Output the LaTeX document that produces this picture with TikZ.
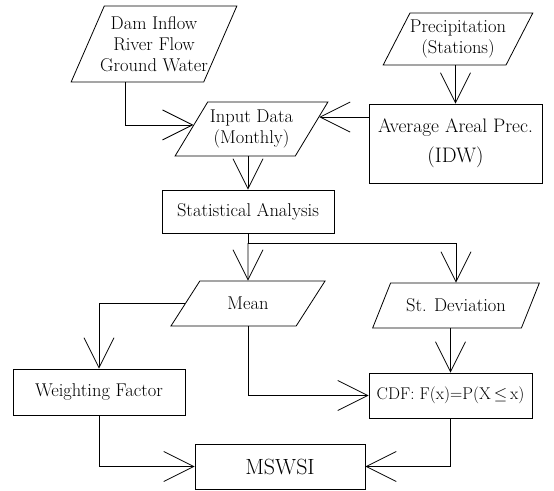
\documentclass[tikz,border=0pt]{standalone}
\usepackage{tikz}
\usetikzlibrary{arrows.meta,shapes.geometric}

\begin{document}
\begin{tikzpicture}[x=1pt,y=-1pt,
    font=\fontsize{18.5}{21}\selectfont,
    line width=0.8pt,
    box/.style={draw, inner sep=0pt, align=center},
    para/.style={draw, trapezium, trapezium stretches=true, inner sep=0pt, align=center},
    arr/.style={-{Straight Barb[length=30pt,width=30pt]}}]
    \useasboundingbox (0,0) rectangle (554,490);
    \node[para, trapezium left angle=60, trapezium right angle=120, minimum width=166pt, minimum height=76pt, inner xsep=-6pt] (dam) at (154,44) {Dam Inflow\\River Flow\\Ground Water};
    \node[para, trapezium left angle=55, trapezium right angle=125, minimum width=148pt, minimum height=52pt] (prec) at (458,39) {Precipitation\\(Stations)};
    \node[para, trapezium left angle=51, trapezium right angle=129, minimum width=153pt, minimum height=54pt] (input) at (251.5,129) {Input Data\\(Monthly)};
    \node[box, minimum width=173pt, minimum height=79pt, font=\fontsize{19.5}{23}\selectfont] (avg) at (455.5,143.5) {Average Areal Prec.\\[7pt]{\fontsize{21}{23}\selectfont(IDW)}};
    \node[box, minimum width=172pt, minimum height=43pt] (stat) at (248,211.5) {Statistical Analysis};
    \node[para, trapezium left angle=46, trapezium right angle=134, minimum width=155pt, minimum height=45pt] (mean) at (248,303.5) {Mean};
    \node[para, trapezium left angle=44, trapezium right angle=136, minimum width=167pt, minimum height=45pt] (sdev) at (456,305.5) {St. Deviation};
    \node[box, minimum width=172pt, minimum height=46pt] (wf) at (99,392) {Weighting Factor};
    \node[box, minimum width=163pt, minimum height=45pt, font=\fontsize{17}{21}\selectfont] (cdf) at (450.5,395.5) {CDF: F(x)=P(X\,$\leq$\,x)};
    \node[box, minimum width=170pt, minimum height=45pt, font=\fontsize{22}{24}\selectfont] (msw) at (280,466.5) {MSWSI};
    \coordinate (split) at (248,243);

    \draw[arr] ([xshift=-29pt]dam.south) |- (input.176);
    \draw[arr] (avg.west |- input.10) -- (input.10);
    \path[arr] (avg.north |- prec.south) edge (avg.north);
    \path[arr] (stat.north |- input.south) edge (stat.north);
    \draw (stat.south) -- (split);
    \path[arr] (split) edge (mean.north);
    \draw[arr] (split) -| (sdev.north);
    \path[arr] (cdf.north |- sdev.south) edge (cdf.north);
    \draw[arr] (mean.west) -| (wf.north);
    \draw[arr] (mean.south) |- (cdf.west);
    \draw[arr] (wf.south) |- (msw.west);
    \draw[arr] (cdf.south) |- (msw.east);
\end{tikzpicture}
\end{document}
